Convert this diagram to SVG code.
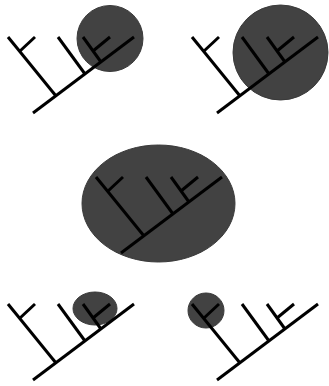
<svg xmlns="http://www.w3.org/2000/svg" xmlns:xlink="http://www.w3.org/1999/xlink" width="329" height="386" viewBox="0 0 329 386">
<style>
.blob{fill:#424242;stroke:#3a3a3a;stroke-width:1}
.tree line{stroke:#000;stroke-width:3;stroke-linecap:butt}
</style>
<defs>
<g id="tree" class="tree">
<line x1="33" y1="113" x2="134" y2="37"/>
<line x1="8" y1="37" x2="56" y2="96"/>
<line x1="20" y1="51" x2="35" y2="37"/>
<line x1="58" y1="37" x2="85" y2="74"/>
<line x1="83" y1="37" x2="101" y2="62"/>
<line x1="93" y1="51" x2="110" y2="37"/>
</g>
</defs>
<rect width="329" height="386" fill="#fff"/>
<g id="panel1">
<circle class="blob" cx="110" cy="38.5" r="33"/>
<use xlink:href="#tree"/>
</g>
<g id="panel2">
<circle class="blob" cx="280.5" cy="52.5" r="47.5"/>
<use xlink:href="#tree" transform="translate(184,0)"/>
</g>
<g id="panel3">
<ellipse class="blob" cx="158.5" cy="203.5" rx="76.5" ry="58.5"/>
<use xlink:href="#tree" transform="translate(88,140)"/>
</g>
<g id="panel4">
<ellipse class="blob" cx="95" cy="308.5" rx="22" ry="16.5"/>
<use xlink:href="#tree" transform="translate(0,267)"/>
</g>
<g id="panel5">
<ellipse class="blob" cx="206" cy="310.5" rx="18" ry="17.5"/>
<use xlink:href="#tree" transform="translate(184,267)"/>
</g>
</svg>
